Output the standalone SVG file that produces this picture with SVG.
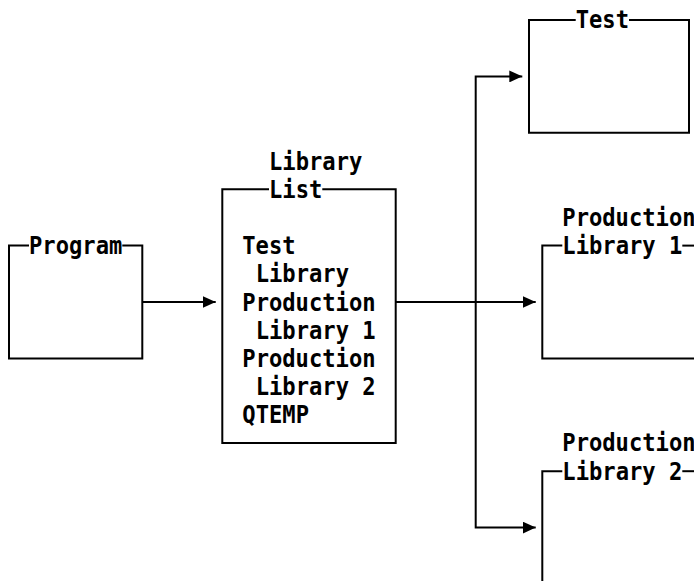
<svg xmlns="http://www.w3.org/2000/svg" width="694" height="581" viewBox="0 0 694 581">
  <defs>
    <style>
      .frame { fill: none; stroke: #000; stroke-width: 2; stroke-linejoin: miter; }
      .wire { fill: none; stroke: #000; stroke-width: 2; }
      .lbl { font-family: "DejaVu Sans Mono", "Liberation Mono", monospace; font-weight: bold; font-size: 24px; fill: #000; }
    </style>
    <marker id="head" viewBox="0 0 13 12" refX="13" refY="6" markerWidth="13" markerHeight="12" markerUnits="userSpaceOnUse" orient="auto">
      <path d="M0,0 L13,6 L0,12 z" fill="#000"/>
    </marker>
  </defs>
  <rect width="694" height="581" fill="#fff"/>

  <!-- Program box -->
  <g id="program">
    <path class="frame" d="M29,245.6 H9 V358.4 H142.3 V245.6 H122.3"/>
    <text class="lbl" x="29" y="254.1" textLength="93.3" lengthAdjust="spacingAndGlyphs">Program</text>
  </g>

  <!-- Library list box -->
  <g id="library-list">
    <path class="frame" d="M269,189.2 H222.3 V443 H395.7 V189.2 H322.3"/>
    <text class="lbl" x="269" y="169.5" textLength="93.3" lengthAdjust="spacingAndGlyphs">Library</text>
    <text class="lbl" x="269" y="197.7" textLength="53.3" lengthAdjust="spacingAndGlyphs">List</text>
    <text class="lbl" x="242.3" y="254.1" textLength="53.3" lengthAdjust="spacingAndGlyphs">Test</text>
    <text class="lbl" x="255.7" y="282.3" textLength="93.3" lengthAdjust="spacingAndGlyphs">Library</text>
    <text class="lbl" x="242.3" y="310.5" textLength="133.3" lengthAdjust="spacingAndGlyphs">Production</text>
    <text class="lbl" x="255.7" y="338.7" textLength="120" lengthAdjust="spacingAndGlyphs">Library 1</text>
    <text class="lbl" x="242.3" y="366.9" textLength="133.3" lengthAdjust="spacingAndGlyphs">Production</text>
    <text class="lbl" x="255.7" y="395.1" textLength="120" lengthAdjust="spacingAndGlyphs">Library 2</text>
    <text class="lbl" x="242.3" y="423.3" textLength="66.7" lengthAdjust="spacingAndGlyphs">QTEMP</text>
  </g>

  <!-- Test library box -->
  <g id="test-library">
    <path class="frame" d="M575.7,20 H529 V132.8 H689 V20 H629"/>
    <text class="lbl" x="575.7" y="28" textLength="53.3" lengthAdjust="spacingAndGlyphs">Test</text>
  </g>

  <!-- Production library 1 box -->
  <g id="production-library-1">
    <path class="frame" d="M562.3,245.6 H542.3 V358.4 H700"/>
    <path class="frame" d="M682.3,245.6 H700"/>
    <text class="lbl" x="562.3" y="225.9" textLength="133.3" lengthAdjust="spacingAndGlyphs">Production</text>
    <text class="lbl" x="562.3" y="254.1" textLength="120" lengthAdjust="spacingAndGlyphs">Library 1</text>
  </g>

  <!-- Production library 2 box -->
  <g id="production-library-2">
    <path class="frame" d="M562.3,471.2 H542.3 V590"/>
    <path class="frame" d="M682.3,471.2 H700"/>
    <text class="lbl" x="562.3" y="451" textLength="133.3" lengthAdjust="spacingAndGlyphs">Production</text>
    <text class="lbl" x="562.3" y="479.7" textLength="120" lengthAdjust="spacingAndGlyphs">Library 2</text>
  </g>

  <!-- Connectors -->
  <g id="connectors">
    <path class="wire" d="M142.3,302 H215.7" marker-end="url(#head)"/>
    <path class="wire" d="M395.7,302 H535.7" marker-end="url(#head)"/>
    <path class="wire" d="M475.7,302 V76.4 H522.3" marker-end="url(#head)"/>
    <path class="wire" d="M475.7,302 V527.6 H535.7" marker-end="url(#head)"/>
  </g>
</svg>
